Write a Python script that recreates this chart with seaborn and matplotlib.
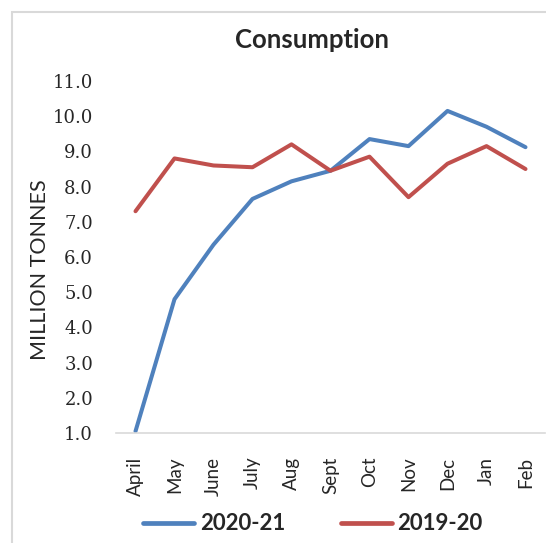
import pandas as pd
import matplotlib
matplotlib.use('Agg')
import matplotlib.pyplot as plt
import seaborn as sns
from matplotlib.patches import Rectangle

months = ['April', 'May', 'June', 'July', 'Aug', 'Sept', 'Oct', 'Nov', 'Dec', 'Jan', 'Feb']
cons_2020_21 = [1.05, 4.8, 6.35, 7.65, 8.15, 8.45, 9.35, 9.15, 10.15, 9.7, 9.12]
cons_2019_20 = [7.3, 8.8, 8.6, 8.55, 9.2, 8.45, 8.85, 7.7, 8.65, 9.15, 8.5]
yticks = [1.0, 2.0, 3.0, 4.0, 5.0, 6.0, 7.0, 8.0, 9.0, 10.0, 11.0]

df = pd.DataFrame({
    'month': months * 2,
    'value': cons_2020_21 + cons_2019_20,
    'season': ['2020-21'] * len(months) + ['2019-20'] * len(months),
})

sns.set_style('white')
W, H = 546, 543
fig = plt.figure(figsize=(W / 100, H / 100), dpi=100)
ax = fig.add_axes([116 / W, (H - 433) / H, (545 - 116) / W, (433 - 81) / H])

# outer chart border
fig.patches.append(Rectangle((12 / W, -0.1), 1.2, (H - 12) / H + 0.1, transform=fig.transFigure,
                             fill=False, edgecolor='#d9d9d9', linewidth=1.5))

sns.lineplot(data=df, x='month', y='value', hue='season', sort=False,
             palette={'2020-21': '#4f81bd', '2019-20': '#c0504d'},
             linewidth=2.9, ax=ax, legend=False)

ax.set_ylim(1, 11)
ax.set_xlim(-0.5, 10.5)
ax.set_yticks(yticks)
ax.set_yticklabels([f'{v:.1f}' for v in yticks], fontfamily='DejaVu Serif', fontsize=13)
ax.set_xticks(range(len(months)))
ax.set_xticklabels(months, rotation=90, fontfamily='Lato', fontsize=13.5)
ax.tick_params(axis='y', length=0, pad=16.5)
ax.tick_params(axis='x', length=0, pad=17)
for s in ['left', 'right', 'top']:
    ax.spines[s].set_visible(False)
ax.spines['bottom'].set_color('#d9d9d9')
ax.spines['bottom'].set_linewidth(1.2)
ax.set_xlabel('')
ax.set_ylabel('')

fig.text(40 / W, (H - 270) / H, 'MILLION TONNES', rotation=90, ha='center', va='center',
         fontfamily='Lato', fontsize=15.5)
fig.text(312 / W, (H - 48) / H, 'Consumption', ha='center', va='baseline',
         fontfamily='Lato', fontweight='bold', fontsize=18.5)

handles = [plt.Line2D([], [], color='#4f81bd', linewidth=3.4),
           plt.Line2D([], [], color='#c0504d', linewidth=3.4)]
fig.legend(handles, ['2020-21', '2019-20'], loc='center', bbox_to_anchor=(313 / W, (H - 524) / H),
           ncol=2, frameon=False, handlelength=2.3, handletextpad=0.25, columnspacing=2.5,
           prop={'family': 'Lato', 'weight': 'bold', 'size': 16})

fig.savefig('out.png', dpi=100)
